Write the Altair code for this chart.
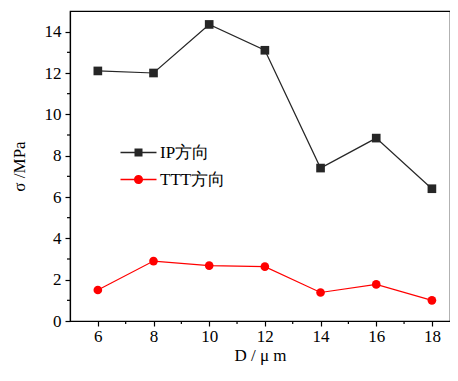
import altair as alt
import pandas as pd

# ---- data ----
d_um = [6, 8, 10, 12, 14, 16, 18]
sigma_ip = [12.1, 12.0, 14.35, 13.1, 7.4, 8.85, 6.4]
sigma_ttt = [1.5, 2.9, 2.68, 2.63, 1.38, 1.77, 1.0]
series_names = ["IP方向", "TTT方向"]
series_colors = ["#262626", "#ff0000"]
series_shapes = ["square", "circle"]
# legend glyphs: a short line with the marker in the middle (filled geometry)
legend_shapes = [
    "M-2.25,-0.08H-0.5V0.08H-2.25Z M0.5,-0.08H2.25V0.08H0.5Z M-0.5,-0.5H0.5V0.5H-0.5Z",
    "M-2.25,-0.08H-0.55V0.08H-2.25Z M0.55,-0.08H2.25V0.08H0.55Z "
    "M0.57,0A0.57,0.57,0,1,1,-0.57,0A0.57,0.57,0,1,1,0.57,0Z",
]
x_major = [6, 8, 10, 12, 14, 16, 18]
x_minor = [7, 9, 11, 13, 15, 17]
y_major = [0, 2, 4, 6, 8, 10, 12, 14]
y_minor = [1, 3, 5, 7, 9, 11, 13]

rows = []
for name, vals in zip(series_names, [sigma_ip, sigma_ttt]):
    for d, v in zip(d_um, vals):
        rows.append({"D": d, "sigma": v, "series": name})
df = pd.DataFrame(rows)

FONT = "Liberation Serif"
W, H = 380, 310

x_scale = alt.Scale(domain=[5, 18.65], nice=False, zero=False)
y_scale = alt.Scale(domain=[0, 15], nice=False)

x_enc = alt.X("D:Q", scale=x_scale,
              axis=alt.Axis(values=x_major, title="D / μ m", grid=False,
                            labelOverlap=False, labelFlush=False,
                            tickSize=5, labelPadding=2, titlePadding=3))
y_enc = alt.Y("sigma:Q", scale=y_scale,
              axis=alt.Axis(values=y_major, title="σ /MPa", grid=False,
                            labelOverlap=False, labelFlush=False,
                            tickSize=5, labelPadding=4, titlePadding=16))

color_scale = alt.Scale(domain=series_names, range=series_colors)

base = alt.Chart(df)

lines = base.mark_line(strokeWidth=1.2).encode(
    x=x_enc, y=y_enc,
    color=alt.Color("series:N", scale=color_scale, legend=None),
)

points = base.mark_point(filled=True, size=75, opacity=1).encode(
    x="D:Q", y="sigma:Q",
    color=alt.Color("series:N", scale=color_scale, legend=None),
    shape=alt.Shape("series:N", scale=alt.Scale(domain=series_names, range=series_shapes), legend=None),
)

# minor ticks
minor_x = alt.Chart(pd.DataFrame({"v": x_minor})).mark_rule(color="black", strokeWidth=1.2).encode(
    x=alt.X("v:Q", scale=x_scale), y=alt.value(H), y2=alt.value(H + 3))
minor_y = alt.Chart(pd.DataFrame({"v": y_minor})).mark_rule(color="black", strokeWidth=1.2).encode(
    y=alt.Y("v:Q", scale=y_scale), x=alt.value(-3), x2=alt.value(0))

leg = alt.Legend(title=None, orient="none", legendX=60, legendY=133,
                 symbolSize=256, symbolStrokeWidth=0, symbolOpacity=1, labelOffset=13,
                 rowPadding=9, padding=0, labelFont=FONT, labelFontSize=17,
                 labelColor="black")

legend_layer = base.transform_filter("false").mark_point(filled=True, opacity=1).encode(
    x="D:Q", y="sigma:Q",
    fill=alt.Fill("series:N", scale=alt.Scale(domain=series_names, range=series_colors), legend=leg),
    shape=alt.Shape("series:N", scale=alt.Scale(domain=series_names, range=legend_shapes), legend=leg),
)

chart = alt.layer(lines, points, minor_x, minor_y, legend_layer).resolve_scale(
    shape="independent", fill="independent"
).properties(
    width=W, height=H,
    autosize=alt.AutoSizeParams(type="none"),
    padding={"left": 62, "top": 3, "right": 0, "bottom": 45},
).configure_view(
    stroke="black", strokeWidth=1.2
).configure_axis(
    labelFont=FONT, titleFont=FONT, labelFontSize=17, titleFontSize=17,
    labelColor="black", titleColor="black", domainColor="black", tickColor="black",
    titleFontWeight="normal", domainWidth=1.2, tickWidth=1.2,
)

chart.save("out.html", embed_options={"renderer": "svg", "actions": False})
